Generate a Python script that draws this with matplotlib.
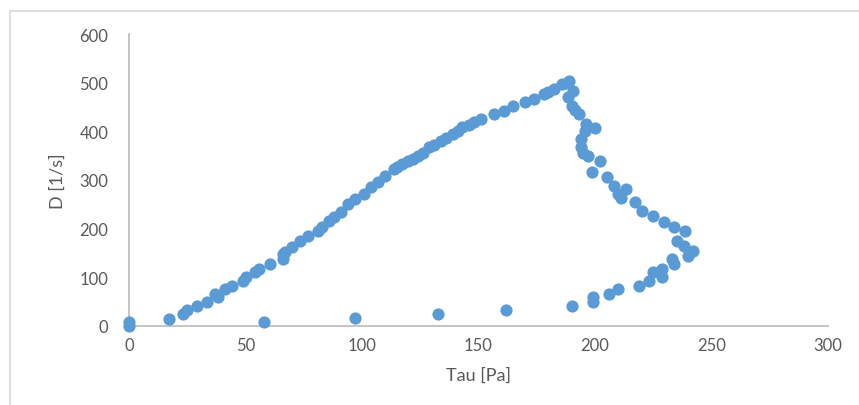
"""Flow curve: shear rate D against shear stress Tau (Excel style scatter)."""

import matplotlib.pyplot as plt
from matplotlib.lines import Line2D

# ramp up, then down branch, then the low return branch
tau = [
    0, 0, 17, 23, 25, 29, 33.6, 37, 38, 41, 44, 49, 50, 54, 56, 60.7, 66, 66, 67,
    70, 73.6, 77, 81, 83, 85.7, 88, 91, 94, 97, 100.7, 103.7, 106.8, 110, 113.6,
    115, 117, 119.7, 122, 124, 126, 128.7, 131, 134, 136, 139, 141, 143, 146,
    148, 151, 156.7, 161, 165, 170, 174, 178, 180, 182.5, 186, 188, 189,
    190.7, 188.5, 190, 191.5, 193, 196, 200, 195.5, 194, 194, 195, 197, 202,
    198.5, 205, 208, 210, 213.5, 211, 217, 220, 225, 229.5, 234, 238.5, 235,
    238, 242, 240,
    233, 234, 228.6, 225, 228.6, 223, 219, 210, 205.8, 199, 199, 190, 162,
    132.6, 97, 58,
]
d_rate = [
    8, 0, 14, 25, 33, 41, 49, 66, 60, 76, 83, 93, 100, 111, 117, 127, 138, 148,
    152, 162, 175, 185, 195, 203, 216, 224, 234, 250, 261, 271, 285, 296, 308,
    322, 326, 332, 339, 344, 349, 356, 367, 372, 380, 386, 394, 401, 408, 414,
    419, 425, 435, 441, 452, 460, 466, 476, 481, 487, 497, 500, 503,
    483, 470, 452, 444, 435, 415, 407, 400, 384, 368, 356, 349, 339, 316, 306,
    287, 271, 281, 263, 255, 236, 226, 213, 203, 195, 175, 164, 154, 144,
    138, 127, 117, 111, 101, 92, 82, 76, 66, 60, 49, 41, 33, 25, 16, 8,
]

x_ticks = [0, 50, 100, 150, 200, 250, 300]
y_ticks = [0, 100, 200, 300, 400, 500, 600]

plt.rcParams["font.family"] = ["Lato", "DejaVu Sans"]

fig = plt.figure(figsize=(8.59, 4.06), dpi=100)
ax = fig.add_axes([129 / 859, 79 / 406, 699 / 859, 292 / 406])

ax.plot(tau, d_rate, linestyle="none", marker="o", markersize=8.8,
        color="#5B9BD5", markeredgewidth=0, clip_on=False, zorder=3)

ax.set_xlim(0, 300)
ax.set_ylim(0, 600)
ax.set_xticks(x_ticks)
ax.set_yticks(y_ticks)
ax.tick_params(length=0, labelsize=12, colors="#595959")
ax.tick_params(axis="y", pad=15)
ax.tick_params(axis="x", pad=8)
for side in ["top", "right"]:
    ax.spines[side].set_visible(False)
for side in ["left", "bottom"]:
    ax.spines[side].set_color("#BFBFBF")
    ax.spines[side].set_linewidth(1.3)

ax.set_xlabel("Tau [Pa]", fontsize=13, color="#595959", labelpad=10)
ax.set_ylabel("D [1/s]", fontsize=13, color="#595959", labelpad=10)

# chart area frame, only the left and top edges show in the crop
fig.add_artist(Line2D([10 / 859, 10 / 859], [0, 1 - 12 / 406],
                      color="#D9D9D9", linewidth=1.2))
fig.add_artist(Line2D([10 / 859, 1], [1 - 12 / 406, 1 - 12 / 406],
                      color="#D9D9D9", linewidth=1.2))

fig.savefig("out.png", dpi=100)
